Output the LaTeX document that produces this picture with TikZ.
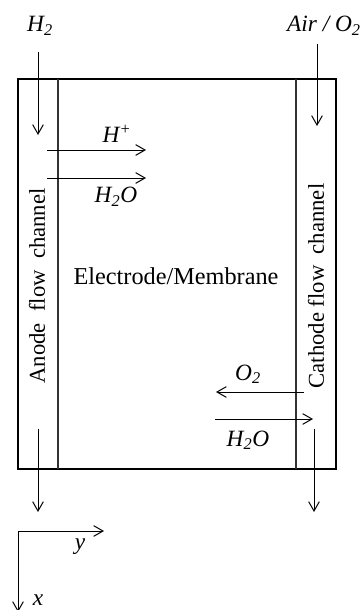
\documentclass[tikz,border=0pt]{standalone}
\usepackage{fontspec}
\setmainfont{Liberation Serif}
\usetikzlibrary{arrows.meta,positioning}

\begin{document}
\begin{tikzpicture}[x=0.75pt,y=-0.75pt,>={Straight Barb[length=7pt,width=8pt]}]
  \tikzstyle{flow}=[->,line width=0.75pt]
  \tikzstyle{wall}=[line width=1.5pt]
  \tikzstyle{lbl}=[inner sep=0pt,font=\fontsize{17.5}{20}\selectfont\itshape]
  \tikzstyle{chan}=[inner sep=0pt,rotate=90,font=\fontsize{17}{20}\selectfont]
  \useasboundingbox (0,0) rectangle (361,610);
  % cell walls
  \draw[wall] (18,79) rectangle (336,469);
  \draw[wall,black!80] (58,79) -- (58,469);
  \draw[wall,black!80] (296,79) -- (296,469);
  % texts
  \node[lbl] (h2) at (40,26) {H\textsubscript{2}};
  \node[lbl] (air) at (324,26) {Air / O\textsubscript{2}};
  \node[chan] (anode) at (37,286) {Anode\ \ flow\ \ channel};
  \node[chan] (cathode) at (316,286) {Cathode\ flow\ \ channel};
  \node[inner sep=0pt,font=\fontsize{18.2}{20}\selectfont] (memb) at (176,276) {Electrode/Membrane};
  \node[lbl] (hplus) at (117,134) {H\textsuperscript{+}};
  \node[lbl] (wtop) at (116,197) {H\textsubscript{2}O};
  \node[lbl] (o2) at (248,374) {O\textsubscript{2}};
  \node[lbl] (wbot) at (248,440) {H\textsubscript{2}O};
  % inlet and outlet
  \coordinate (ain) at (38,52);   \coordinate (aend) at (38,135);
  \coordinate (cin) at (317,44);  \coordinate (cend) at (317,126);
  \coordinate (aout) at (38,429); \coordinate (aoutend) at (38,512);
  \coordinate (cout) at (314,429); \coordinate (coutend) at (314,512);
  \draw[flow] (ain) -- (aend);
  \draw[flow] (cin) -- (cend);
  \draw[flow] (aout) -- (aoutend);
  \draw[flow] (cout) -- (coutend);
  % transport across membrane
  \coordinate (hp1) at (47,150);  \coordinate (hp2) at (146,150);
  \coordinate (wt1) at (47,178);  \coordinate (wt2) at (146,178);
  \coordinate (ox1) at (304,392); \coordinate (ox2) at (216,392);
  \coordinate (wb1) at (215,419); \coordinate (wb2) at (313,419);
  \draw[flow] (hp1) -- (hp2);
  \draw[flow] (wt1) -- (wt2);
  \draw[flow] (ox1) -- (ox2);
  \draw[flow] (wb1) -- (wb2);
  % axes
  \coordinate (orig) at (18,531);
  \coordinate (yend) at (104,531);
  \coordinate (xend) at (18,612);
  \draw[flow] (orig) -- (yend);
  \draw[flow] (orig) -- (xend);
  \node[lbl] (ylab) at (80,547) {y};
  \node[lbl] (xlab) at (38,600) {x};
\end{tikzpicture}
\end{document}
